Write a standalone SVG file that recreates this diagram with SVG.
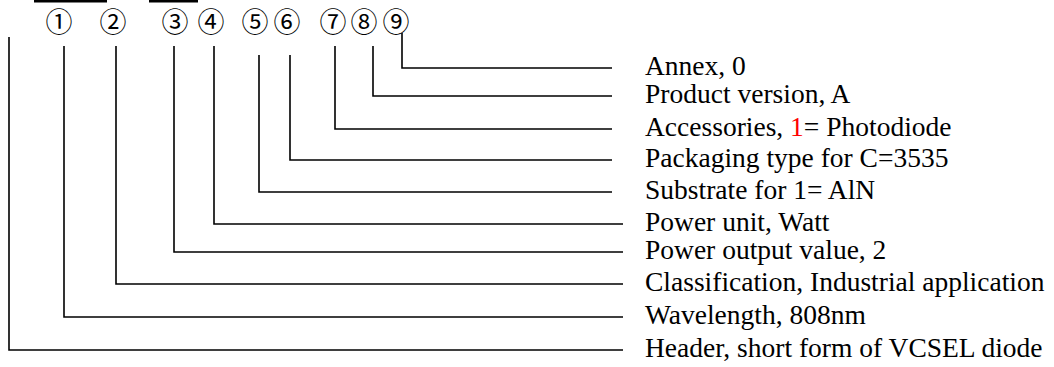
<svg xmlns="http://www.w3.org/2000/svg" width="1054" height="367" viewBox="0 0 1054 367">
<style>
.bg{fill:#ffffff}
.bar{fill:#000000}
.num{font-family:"Noto Sans CJK JP","DejaVu Sans",sans-serif;font-size:27px;fill:#000000;text-anchor:middle}
.lbl{font-family:"Liberation Serif","Times New Roman",serif;font-size:27.5px;fill:#000000}
.red{fill:#ff0000}
.conn{fill:none;stroke:#000000;stroke-width:1.6}
</style>
<rect class="bg" x="0" y="0" width="1054" height="367"/>
<g id="overlines">
<rect class="bar" x="34" y="0" width="73" height="2.5"/>
<rect class="bar" x="149" y="0" width="49" height="2.5"/>
</g>
<g id="digits">
<text class="num" x="59" y="31.5">①</text>
<text class="num" x="113" y="31.5">②</text>
<text class="num" x="175" y="31.5">③</text>
<text class="num" x="211" y="31.5">④</text>
<text class="num" x="255" y="31.5">⑤</text>
<text class="num" x="287" y="31.5">⑥</text>
<text class="num" x="333" y="31.5">⑦</text>
<text class="num" x="364" y="31.5">⑧</text>
<text class="num" x="396" y="31.5">⑨</text>
</g>
<g id="connectors">
<polyline class="conn" points="402,33 402,68 612,68"/>
<polyline class="conn" points="373,46 373,96 612,96"/>
<polyline class="conn" points="335,46 335,129 612,129"/>
<polyline class="conn" points="290,55 290,160 612,160"/>
<polyline class="conn" points="259,55 259,192 612,192"/>
<polyline class="conn" points="214,46 214,224 623,224"/>
<polyline class="conn" points="174,46 174,252 623,252"/>
<polyline class="conn" points="116,46 116,284 623,284"/>
<polyline class="conn" points="64,46 64,317 623,317"/>
<polyline class="conn" points="9,37 9,350 623,350"/>
</g>
<g id="n9"><text class="lbl" x="645" y="75">Annex, 0</text></g>
<g id="n8"><text class="lbl" x="645" y="103">Product version, A</text></g>
<g id="n7"><text class="lbl" x="645" y="136">Accessories, <tspan class="red">1</tspan>= Photodiode</text></g>
<g id="n6"><text class="lbl" x="645" y="167">Packaging type for C=3535</text></g>
<g id="n5"><text class="lbl" x="645" y="199">Substrate for 1= AlN</text></g>
<g id="n4"><text class="lbl" x="645" y="231">Power unit, Watt</text></g>
<g id="n3"><text class="lbl" x="645" y="259">Power output value, 2</text></g>
<g id="n2"><text class="lbl" x="645" y="291">Classification, Industrial application</text></g>
<g id="n1"><text class="lbl" x="645" y="324">Wavelength, 808nm</text></g>
<g id="n0"><text class="lbl" x="645" y="357">Header, short form of VCSEL diode</text></g>
</svg>
